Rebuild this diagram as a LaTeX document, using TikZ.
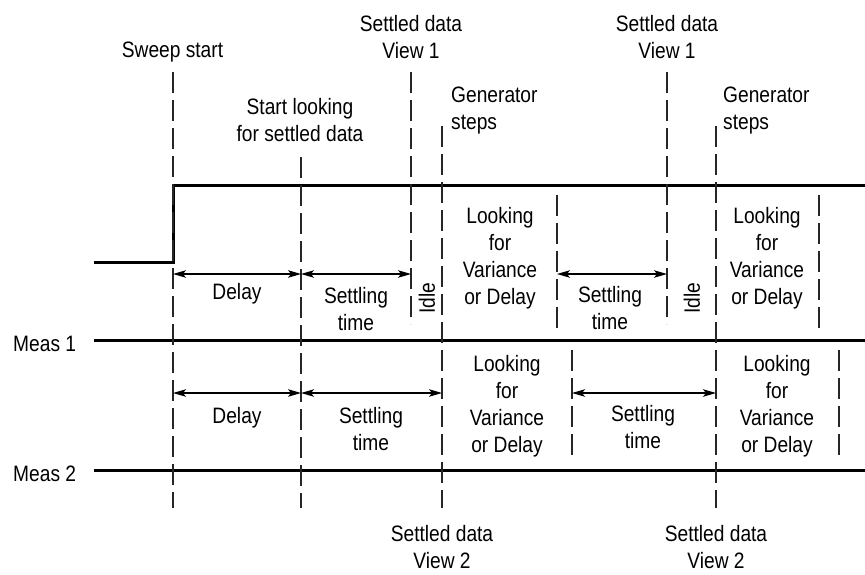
\documentclass[tikz,border=0pt]{standalone}
\usepackage{fontspec}
\setmainfont{Liberation Sans}[FakeStretch=0.86]
\usetikzlibrary{arrows.meta}
\begin{document}
\begin{tikzpicture}[x=1pt,y=-1pt,
  every node/.style={inner sep=0pt, font=\fontsize{22.3}{27}\selectfont, align=center},
  lbl/.style={anchor=north},
  sig/.style={line width=3pt},
  guide/.style={line width=1.2pt, dash pattern=on 21pt off 7pt, black!85},
  span/.style={line width=1.1pt, {Stealth[length=13pt,width=7.5pt,inset=3pt]}-{Stealth[length=13pt,width=7.5pt,inset=3pt]}}]
\useasboundingbox (0,0) rectangle (865,574);

% signal and measurement lines
\coordinate (sigL) at (94,262);
\coordinate (sigE) at (173,262);
\coordinate (sigU) at (173,185);
\coordinate (sigR) at (865,185);
\draw[sig] (sigL) -- (sigE) -- (sigU) -- (sigR);
\coordinate (m1L) at (94,340);
\coordinate (m1R) at (865,340);
\coordinate (m2L) at (94,470);
\coordinate (m2R) at (865,470);
\draw[sig] (m1L) -- (m1R);
\draw[sig] (m2L) -- (m2R);

% dashed guide lines
\coordinate (aT) at (173,72);  \coordinate (aB) at (173,508);
\coordinate (bT) at (301,157); \coordinate (bB) at (301,508);
\coordinate (cT) at (411,72);  \coordinate (cB) at (411,324);
\coordinate (dT) at (442,126); \coordinate (dB) at (442,508);
\coordinate (eT) at (557,195); \coordinate (eB) at (557,328);
\coordinate (fT) at (667,72);  \coordinate (fB) at (667,324);
\coordinate (gT) at (716,126); \coordinate (gB) at (716,508);
\coordinate (hT) at (819,195); \coordinate (hB) at (819,328);
\coordinate (iT) at (572,350); \coordinate (iB) at (572,460);
\coordinate (jT) at (839,350); \coordinate (jB) at (839,460);
\foreach \n in {a,b,c,d,e,f,g,h,i,j}{\draw[guide] (\n T) -- (\n B);}

% span arrows
\coordinate (p1) at (173,274); \coordinate (p2) at (301,274);
\coordinate (p3) at (411,274); \coordinate (p4) at (557,274);
\coordinate (p5) at (667,274);
\draw[span] (p1) -- (p2);
\draw[span] (p2) -- (p3);
\draw[span] (p4) -- (p5);
\coordinate (q1) at (173,393); \coordinate (q2) at (301,393);
\coordinate (q3) at (442,393); \coordinate (q4) at (572,393);
\coordinate (q5) at (716,393);
\draw[span] (q1) -- (q2);
\draw[span] (q2) -- (q3);
\draw[span] (q4) -- (q5);

% top labels
\node[lbl] (sweep) at (172.5,42) {Sweep start};
\node[lbl] (sv1a) at (411,15) {Settled data\\View 1};
\node[lbl] (sv1b) at (667,15) {Settled data\\View 1};
\node[lbl] (slook) at (300,98) {Start looking\\for settled data};
\node[anchor=north west, align=left] (gen1) at (451,87) {Generator\\steps};
\node[anchor=north west, align=left] (gen2) at (723,87) {Generator\\steps};

% Meas 1 row
\node[anchor=base west] (meas1) at (13,351.5) {Meas 1};
\node[lbl] (d1) at (237,283) {Delay};
\node[lbl] (st1) at (356,287) {Settling\\time};
\node[rotate=90] (idle1) at (427,298) {Idle};
\node[lbl] (lk1) at (500,207) {Looking\\for\\Variance\\or Delay};
\node[lbl] (st2) at (610,286) {Settling\\time};
\node[rotate=90] (idle2) at (692,298) {Idle};
\node[lbl] (lk2) at (767,207) {Looking\\for\\Variance\\or Delay};

% Meas 2 row
\node[anchor=base west] (meas2) at (13,481.5) {Meas 2};
\node[lbl] (d2) at (237,407) {Delay};
\node[lbl] (st3) at (371,407) {Settling\\time};
\node[lbl] (lk3) at (507,355) {Looking\\for\\Variance\\or Delay};
\node[lbl] (st4) at (643,405) {Settling\\time};
\node[lbl] (lk4) at (777,355) {Looking\\for\\Variance\\or Delay};

% bottom labels
\node[lbl] (sv2a) at (442,525) {Settled data\\View 2};
\node[lbl] (sv2b) at (716,525) {Settled data\\View 2};
\end{tikzpicture}
\end{document}
